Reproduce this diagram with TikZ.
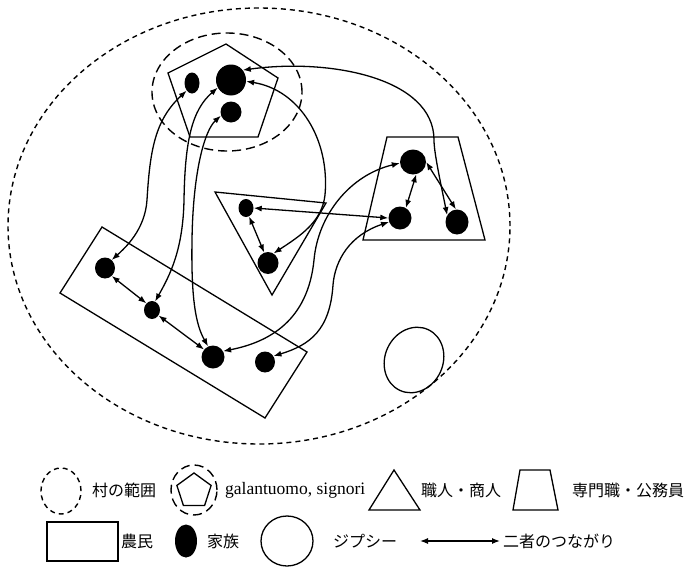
\documentclass[tikz,border=0pt]{standalone}
\usepackage{fontspec}
\setmainfont{Liberation Serif}
\newfontfamily\jpfont{Noto Sans CJK JP}
\usetikzlibrary{shapes.geometric,arrows.meta}
\begin{document}
\begin{tikzpicture}[x=1pt,y=-1pt,
  dot/.style={ellipse, fill=black, inner sep=0pt},
  link/.style={line width=1.3pt, {Latex[length=8pt,width=6pt]}-{Latex[length=8pt,width=6pt]}},
  frame/.style={line width=1.3pt},
  villagedash/.style={line width=1.4pt, dash pattern=on 5pt off 4pt},
  elitedash/.style={line width=1.4pt, dash pattern=on 9pt off 5pt},
  jplabel/.style={anchor=west, inner sep=0pt, font=\jpfont\fontsize{16}{16}\selectfont},
  latlabel/.style={anchor=west, inner sep=0pt, font=\fontsize{17.5}{17.5}\selectfont}]
\useasboundingbox (0,0) rectangle (694,571);

% village boundary
\draw[villagedash] (259,226) ellipse [x radius=251pt, y radius=218pt];
% elite circle and pentagon
\draw[elitedash] (227,92) ellipse [x radius=75pt, y radius=59pt];
\draw[frame] (226,44) -- (278,78) -- (258,137) -- (190,137) -- (168,73) -- cycle;
% trapezoid
\draw[frame] (387,137) -- (458,137) -- (485,240) -- (363,240) -- cycle;
% triangle
\draw[frame] (215,192) -- (326,203) -- (272,295) -- cycle;
% rectangle
\draw[frame] (102,227) -- (307,352) -- (265,418) -- (60,293) -- cycle;
% gypsy
\node[draw, line width=1.3pt, ellipse, minimum width=58pt, minimum height=67pt, rotate=-25] (gyp) at (414,360) {};

% families
\node[dot, minimum width=15pt, minimum height=21pt] (pL) at (192,83) {};
\node[dot, minimum width=30pt, minimum height=31pt] (pB) at (231,80) {};
\node[dot, minimum width=21pt, minimum height=21pt] (pD) at (231,112) {};
\node[dot, minimum width=15pt, minimum height=18pt] (tT) at (246,208) {};
\node[dot, minimum width=21pt, minimum height=22pt] (tB) at (268,263) {};
\node[dot, minimum width=26pt, minimum height=25pt] (zT) at (413,162) {};
\node[dot, minimum width=23pt, minimum height=23pt] (zL) at (400,218) {};
\node[dot, minimum width=23pt, minimum height=25pt] (zR) at (457,222) {};
\node[dot, minimum width=20pt, minimum height=21pt] (r1) at (105,268) {};
\node[dot, minimum width=16pt, minimum height=18pt] (r2) at (152,310) {};
\node[dot, minimum width=23pt, minimum height=23pt] (r3) at (213,357) {};
\node[dot, minimum width=20pt, minimum height=21pt] (r4) at (265,362) {};

% connections
\draw[link] (pB.40) .. controls (330,58) and (434,78) .. (434,140) .. controls (434,152) and (440,180) .. (zR.145);
\draw[link] (zT.east) -- (zR.95);
\draw[link] (pB.-5) .. controls (300,90) and (330,140) .. (325,195) .. controls (322,222) and (300,236) .. (tB.60);
\draw[link] (tT.east) -- (zL.west);
\draw[link] (tT.-70) -- (tB.110);
\draw[link] (zT.-75) -- (zL.60);
\draw[link] (zT.185) .. controls (350,175) and (318,215) .. (314,260) .. controls (308,320) and (270,342) .. (r3.30);
\draw[link] (zL.200) .. controls (350,235) and (335,260) .. (333,285) .. controls (330,330) and (310,345) .. (r4.35);
\draw[link] (r1.-50) -- (r2.130);
\draw[link] (r2.-40) -- (r3.140);
\draw[link] (pL.235) .. controls (155,120) and (150,150) .. (147,200) .. controls (145,230) and (125,248) .. (r1.50);
\draw[link] (pB.210) .. controls (192,110) and (185,140) .. (184,200) .. controls (183,250) and (170,275) .. (r2.70);
\draw[link] (pD.200) .. controls (205,130) and (193,170) .. (192,240) .. controls (191,300) and (196,325) .. (r3.115);

% legend row 1
\draw[villagedash] (61,491) ellipse [x radius=20pt, y radius=23pt];
\node[jplabel] (l1) at (92,490) {村の範囲};
\draw[elitedash] (194,490) ellipse [x radius=23pt, y radius=25pt];
\node[draw, line width=1.3pt, regular polygon, regular polygon sides=5, minimum size=36pt, inner sep=0pt] (lpent) at (194,491) {};
\node[latlabel] (l2) at (225,490) {galantuomo, signori};
\draw[frame] (369,510) -- (394,470) -- (420,510) -- cycle;
\node[jplabel] (l3) at (421,490) {職人・商人};
\draw[frame] (520,470) -- (550,470) -- (558,510) -- (513,510) -- cycle;
\node[jplabel] (l4) at (572,490) {専門職・公務員};

% legend row 2
\draw[frame] (47,522) rectangle (118,561);
\node[jplabel] (l5) at (121,541) {農民};
\node[dot, minimum width=22pt, minimum height=33pt] (ldot) at (186,541) {};
\node[jplabel] (l6) at (207,541) {家族};
\node[draw, line width=1.3pt, ellipse, minimum width=52pt, minimum height=50pt] (lgyp) at (287,541) {};
\node[jplabel] (l7) at (333,541) {ジプシー};
\coordinate (la) at (420,541);
\coordinate (lb) at (500,541);
\draw[link] (la) -- (lb);
\node[jplabel] (l8) at (503,541) {二者のつながり};
\end{tikzpicture}
\end{document}
